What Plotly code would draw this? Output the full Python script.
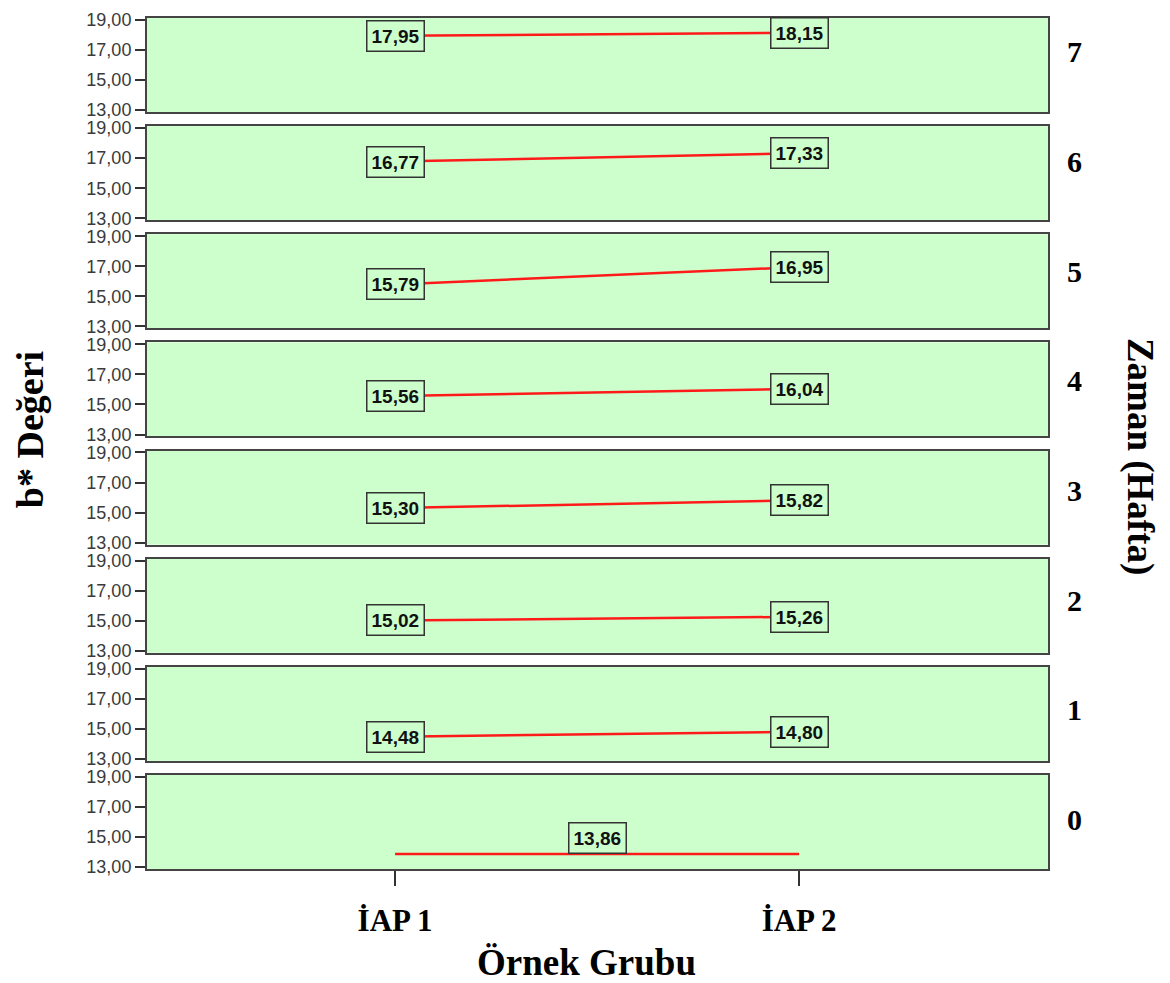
import plotly.graph_objects as go

weeks = ["7", "6", "5", "4", "3", "2", "1", "0"]
groups = ["İAP 1", "İAP 2"]
iap1 = [17.95, 16.77, 15.79, 15.56, 15.30, 15.02, 14.48, 13.86]
iap2 = [18.15, 17.33, 16.95, 16.04, 15.82, 15.26, 14.80, 13.86]
y_ticks = [13, 15, 17, 19]

fig = go.Figure()

H = 983
top_px = 10
bot_px = 869
n = len(weeks)
gap_px = 14.14
panel_px = (bot_px - top_px - gap_px * (n - 1)) / n
area = bot_px - top_px

def dom(k):
    t = k * (panel_px + gap_px)
    b = t + panel_px
    return [1 - b / area, 1 - t / area]

def px_to_paper(p):
    return 1 - (p - top_px) / area

# pixel rows of the facet labels on the right
lab_first, lab_last = 44, 819

annotations = []
for k, w in enumerate(weeks):
    idx = "" if k == 0 else str(k + 1)
    xa = "x" + idx
    ya = "y" + idx
    same = (iap1[k] == iap2[k])
    fig.add_trace(go.Scatter(
        x=[0, 1], y=[iap1[k], iap2[k]], mode="lines",
        line=dict(color="#ff1a1a", width=2.5),
        xaxis=xa, yaxis=ya, showlegend=False, hoverinfo="skip"))
    if same:
        pts = [(0.5, iap1[k])]
    else:
        pts = [(0, iap1[k]), (1, iap2[k])]
    for (px, pv) in pts:
        annotations.append(dict(
            x=px, y=pv, xref=xa, yref=ya,
            text="<b>" + f"{pv:.2f}".replace(".", ",") + "</b>",
            showarrow=False, yshift=(16 if same else 0),
            font=dict(family="Liberation Sans, Arial", size=19, color="#111"),
            bgcolor="#ccffcc", bordercolor="#333", borderwidth=1.5, borderpad=4))
    ypx = lab_first + k * (lab_last - lab_first) / (n - 1)
    annotations.append(dict(
        x=1.0, xref="paper", xanchor="center", xshift=26,
        y=px_to_paper(ypx), yref="paper", yanchor="middle",
        text="<b>" + w + "</b>", showarrow=False,
        font=dict(family="Liberation Serif, Times New Roman", size=30, color="#000")))
    last = (k == n - 1)
    fig.layout["xaxis" + idx] = dict(
        domain=[0, 1], anchor=ya, range=[-0.614, 1.616],
        tickvals=[0, 1] if last else [], ticktext=["<b>" + g + "</b>" for g in groups],
        ticks="outside" if last else "", ticklen=15, tickwidth=2, tickcolor="#333",
        ticklabelstandoff=8,
        showticklabels=last, showgrid=False, zeroline=False,
        showline=True, mirror=True, linecolor="#444", linewidth=2,
        tickfont=dict(family="Liberation Serif, Times New Roman", size=31, color="#000"),
        matches=None if k == 0 else "x")
    fig.layout["yaxis" + idx] = dict(
        domain=dom(k), anchor=xa, range=[12.87, 19.13],
        tickvals=y_ticks, tickformat=".2f",
        ticks="outside", ticklen=10, tickwidth=2, tickcolor="#333",
        showgrid=False, zeroline=False,
        showline=True, mirror=True, linecolor="#444", linewidth=2,
        tickfont=dict(family="Liberation Sans, Arial", size=18, color="#3a3a3a"))

# axis titles
annotations.append(dict(
    x=0, xref="paper", xanchor="center", xshift=-117,
    y=px_to_paper(426), yref="paper", yanchor="middle",
    text="<b>b* Değeri</b>", textangle=-90, showarrow=False,
    font=dict(family="Liberation Serif, Times New Roman", size=38, color="#000")))
annotations.append(dict(
    x=1, xref="paper", xanchor="center", xshift=92,
    y=px_to_paper(452), yref="paper", yanchor="middle",
    text="<b>Zaman (Hafta)</b>", textangle=90, showarrow=False,
    font=dict(family="Liberation Serif, Times New Roman", size=37, color="#000")))
annotations.append(dict(
    x=0.5, xref="paper", xanchor="center", xshift=-11,
    y=px_to_paper(963), yref="paper", yanchor="middle",
    text="<b>Örnek Grubu</b>", showarrow=False,
    font=dict(family="Liberation Serif, Times New Roman", size=37, color="#000")))

fig.update_layout(
    width=1170, height=983,
    margin=dict(l=147, r=122, t=top_px, b=H - bot_px),
    paper_bgcolor="white", plot_bgcolor="#ccffcc",
    separators=",.",
    annotations=annotations,
)

fig.write_html("out.html")
